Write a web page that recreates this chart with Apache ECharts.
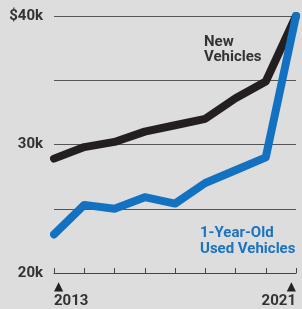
<!DOCTYPE html>
<html lang="en">
<head>
  <meta charset="UTF-8">
  <title>New vs used vehicle prices</title>
  <style>
    html, body { margin: 0; padding: 0; background: #dddddd; }
    #main { width: 302px; height: 309px; }
  </style>
  <script src="https://cdn.jsdelivr.net/npm/echarts@6/dist/echarts.min.js"></script>
</head>
<body>
  <div id="main"></div>
  <script>
    // years on the x axis
    var years = ['2013', '2014', '2015', '2016', '2017', '2018', '2019', '2020', '2021'];
    // average price, thousands of dollars
    var newVehicles = [28.9, 29.8, 30.2, 31.0, 31.5, 32.0, 33.6, 34.9, 40.0];
    var usedVehicles = [23.0, 25.3, 25.0, 25.9, 25.4, 27.0, 28.0, 29.0, 40.0];
    // only these ticks get a label
    var yLabels = { 20: '20k', 30: '30k', 40: '$40k' };

    var fontFam = 'Roboto, sans-serif';
    var chart = echarts.init(document.getElementById('main'));

    var option = {
      backgroundColor: '#dddddd',
      animation: false,
      grid: { left: 54, right: 6, top: 16, bottom: 35 },
      xAxis: {
        type: 'category',
        data: years,
        boundaryGap: false,
        axisLine: { lineStyle: { color: '#444', width: 1 } },
        axisTick: { inside: true, length: 5, lineStyle: { color: '#444' } },
        axisLabel: {
          interval: 0,
          margin: 7,
          formatter: function (v, i) {
            if (i === 0) return '{a|▲}\n{b|' + v + '}';
            if (i === years.length - 1) return '{c|▲}\n{b|' + v + '}';
            return '';
          },
          alignMinLabel: 'left',
          alignMaxLabel: 'right',
          rich: {
            a: { align: 'left', fontSize: 12, fontFamily: 'DejaVu Sans', lineHeight: 13, color: '#222' },
            c: { align: 'right', fontSize: 12, fontFamily: 'DejaVu Sans', lineHeight: 13, color: '#222' },
            b: { fontSize: 15, fontWeight: 'bold', fontFamily: fontFam, color: '#333', lineHeight: 17 }
          }
        }
      },
      yAxis: {
        type: 'value',
        min: 20,
        max: 40,
        interval: 5,
        axisLine: { show: false },
        axisTick: { show: false },
        splitLine: { lineStyle: { color: '#555', width: 1 } },
        axisLabel: {
          margin: 11,
          fontSize: 15,
          fontWeight: 'bold',
          fontFamily: fontFam,
          color: '#333',
          formatter: function (v) { return yLabels[v] || ''; }
        }
      },
      graphic: [
        {
          type: 'text', left: 204, top: 35,
          style: {
            text: 'New\nVehicles', align: 'center',
            font: 'bold 15px ' + fontFam, fill: '#333', lineHeight: 15
          }
        },
        {
          type: 'text', left: 200, top: 225,
          style: {
            text: '1-Year-Old\nUsed Vehicles', align: 'center',
            font: 'bold 15px ' + fontFam, fill: '#1a73c0', lineHeight: 16
          }
        }
      ],
      series: [
        {
          name: 'New Vehicles',
          type: 'line',
          data: newVehicles,
          symbol: 'none',
          lineStyle: { color: '#231f20', width: 8, cap: 'round', join: 'round' }
        },
        {
          name: '1-Year-Old Used Vehicles',
          type: 'line',
          data: usedVehicles,
          symbol: 'none',
          lineStyle: { color: '#1271c1', width: 8, cap: 'round', join: 'round' }
        }
      ]
    };
    chart.setOption(option);
  </script>
</body>
</html>
